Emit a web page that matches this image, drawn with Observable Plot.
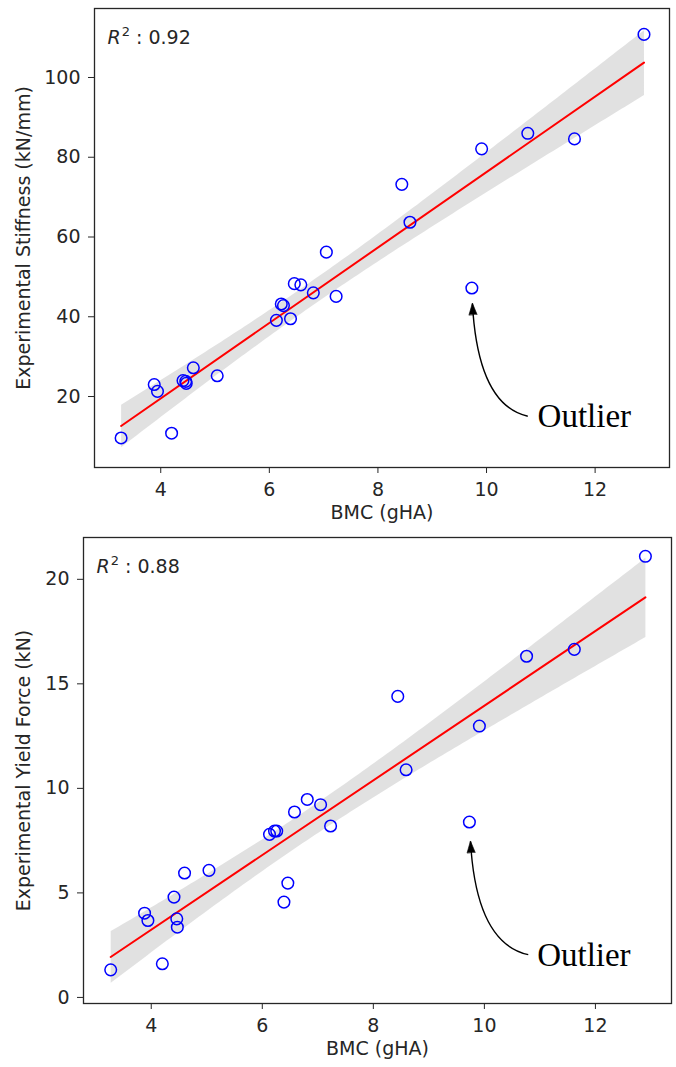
<!DOCTYPE html>
<html>
<head>
<meta charset="utf-8">
<script src="https://cdn.jsdelivr.net/npm/d3@7"></script>
<script src="https://cdn.jsdelivr.net/npm/@observablehq/plot@0.6"></script>
<style>
  body { margin: 0; background: #fff; }
  #chart { width: 676px; }
  #chart svg { display: block; }
</style>
</head>
<body>
<div id="chart"></div>
<script>
// ---- data ----
const bmc = [3.27, 3.88, 3.94, 4.20, 4.41, 4.46, 4.47, 4.60, 5.04, 6.13, 6.22, 6.26, 6.39,
             6.46, 6.58, 6.81, 7.05, 7.23, 8.44, 8.59, 9.73, 9.91, 10.76, 11.62, 12.90];
const stiffness = [9.6, 23.0, 21.3, 10.8, 24.0, 23.8, 23.3, 27.2, 25.2, 39.1, 43.2, 42.8, 39.5,
                   48.3, 48.0, 46.0, 56.2, 45.1, 73.2, 63.7, 47.2, 82.1, 86.0, 84.6, 110.8];
const yieldForce = [1.32, 4.03, 3.68, 1.61, 4.80, 3.76, 3.36, 5.95, 6.08, 7.80, 7.96, 7.96, 4.56,
                    5.47, 8.87, 9.47, 9.22, 8.20, 14.40, 10.89, 8.39, 12.98, 16.32, 16.65, 21.10];

const xTicks = [4, 6, 8, 10, 12];
const stiffTicks = [20, 40, 60, 80, 100];
const yieldTicks = [0, 5, 10, 15, 20];
const xLabel = "BMC (gHA)";
const yLabels = ["Experimental Stiffness (kN/mm)", "Experimental Yield Force (kN)"];
const r2Values = ["0.92", "0.88"];
const outlierText = "Outlier";
// annotation anchors in data units: [x, y]
const outlierLabelPos = [[10.94, 15.0], [10.95, 2.0]];
const outlierArrowStart = [[10.76, 15.05], [10.79, 2.05]];
const outlierArrowTip = [[9.74, 43.3], [9.75, 7.46]];

const xDomain = [2.78, 13.37];
const stiffDomain = [2.2, 117.3];
const yieldDomain = [-0.29, 22.0];

// quadratic curve: leaves the start nearly horizontally, reaches the end nearly vertically
function elbowCurve(context) {
  let pts = [];
  return {
    areaStart() {}, areaEnd() {},
    lineStart() { pts = []; },
    point(x, y) { pts.push([+x, +y]); },
    lineEnd() {
      const a = pts[0], b = pts[pts.length - 1];
      const cx = b[0] + 0.1 * (a[0] - b[0]);
      const cy = a[1] + 0.1 * (b[1] - a[1]);
      context.moveTo(a[0], a[1]);
      context.quadraticCurveTo(cx, cy, b[0], b[1]);
    }
  };
}

const FONT = "DejaVu Sans, sans-serif";
const FS = 19;
const INK = "#262626";

function panel(cfg) {
  const data = bmc.map((x, i) => ({x, y: cfg.y[i]}));
  const r2Text = "R2 : " + cfg.r2;
  const svg = Plot.plot({
    width: 676,
    height: cfg.height,
    marginTop: cfg.marginTop,
    marginBottom: cfg.marginBottom,
    marginLeft: cfg.marginLeft,
    marginRight: cfg.marginRight,
    style: {fontFamily: FONT, fontSize: FS + "px", color: INK, background: "white"},
    x: {domain: xDomain},
    y: {domain: cfg.yDomain},
    marks: [
      Plot.linearRegressionY(data, {x: "x", y: "y", stroke: "none", fill: "#c9c9c9", fillOpacity: 0.55, ci: 0.95}),
      Plot.linearRegressionY(data, {x: "x", y: "y", stroke: "red", strokeWidth: 2, ci: 0}),
      Plot.dot(data, {x: "x", y: "y", r: 5.8, stroke: "#0000ff", strokeWidth: 1.5, fill: "none"}),
      Plot.frame({stroke: INK, strokeWidth: 1.3}),
      Plot.axisX({ticks: xTicks, tickSize: 6, tickPadding: 9, label: null, fontSize: FS}),
      Plot.axisY({ticks: cfg.yTicks, tickSize: 6, tickPadding: 8, label: null, fontSize: FS}),
      Plot.text([xLabel], {text: d => d, frameAnchor: "bottom", dy: 51, fontSize: FS}),
      Plot.text([cfg.yLabel], {text: d => d, frameAnchor: "left", textAnchor: "middle", rotate: -90,
                               dx: cfg.yLabelDx, fontSize: FS}),
      Plot.text([r2Text], {text: d => d, frameAnchor: "top-left", textAnchor: "start",
                           lineAnchor: "bottom", dx: 13, dy: 35, fontSize: FS}),
      Plot.link([0], {x1: () => cfg.arrowStart[0], y1: () => cfg.arrowStart[1],
                      x2: () => cfg.arrowTip[0], y2: () => cfg.arrowTip[1],
                      curve: elbowCurve, stroke: "black", strokeWidth: 1.4, markerEnd: "arrow"}),
      Plot.text([outlierText], {text: d => d, x: () => cfg.labelPos[0], y: () => cfg.labelPos[1],
                                textAnchor: "start", fontFamily: "Liberation Serif, serif",
                                fontSize: 33, fill: "black"})
    ]
  });

  // rich R² label (italic R, superscript 2)
  svg.querySelectorAll("text").forEach(t => {
    if (t.textContent !== r2Text) return;
    const ns = "http://www.w3.org/2000/svg";
    while (t.firstChild) t.removeChild(t.firstChild);
    const r = document.createElementNS(ns, "tspan");
    r.setAttribute("font-style", "italic"); r.textContent = "R";
    const s = document.createElementNS(ns, "tspan");
    s.setAttribute("font-size", "13"); s.setAttribute("dy", "-8"); s.setAttribute("dx", "1"); s.textContent = "2";
    const rest = document.createElementNS(ns, "tspan");
    rest.setAttribute("dy", "8"); rest.textContent = " : " + cfg.r2;
    t.appendChild(r); t.appendChild(s); t.appendChild(rest);
  });

  // filled triangular arrowhead
  svg.querySelectorAll("marker").forEach(m => {
    m.setAttribute("viewBox", "-12 -6 14 12");
    m.setAttribute("markerUnits", "userSpaceOnUse");
    m.setAttribute("markerWidth", "14");
    m.setAttribute("markerHeight", "12");
    m.setAttribute("fill", "black");
    m.setAttribute("stroke", "black");
    m.setAttribute("stroke-width", "0.6");
    m.setAttribute("stroke-linejoin", "miter");
    const p = m.querySelector("path");
    if (p) p.setAttribute("d", "M-11,-4L0.5,0L-11,4Z");
  });
  return svg;
}

const chart = document.getElementById("chart");
chart.appendChild(panel({
  y: stiffness, yTicks: stiffTicks, yDomain: stiffDomain,
  height: 532, marginTop: 8, marginBottom: 65, marginLeft: 94, marginRight: 7,
  yLabel: yLabels[0], yLabelDx: -71, r2: r2Values[0],
  labelPos: outlierLabelPos[0], arrowStart: outlierArrowStart[0], arrowTip: outlierArrowTip[0]
}));
chart.appendChild(panel({
  y: yieldForce, yTicks: yieldTicks, yDomain: yieldDomain,
  height: 535, marginTop: 5, marginBottom: 64, marginLeft: 83, marginRight: 5,
  yLabel: yLabels[1], yLabelDx: -59.5, r2: r2Values[1],
  labelPos: outlierLabelPos[1], arrowStart: outlierArrowStart[1], arrowTip: outlierArrowTip[1]
}));
</script>
</body>
</html>
